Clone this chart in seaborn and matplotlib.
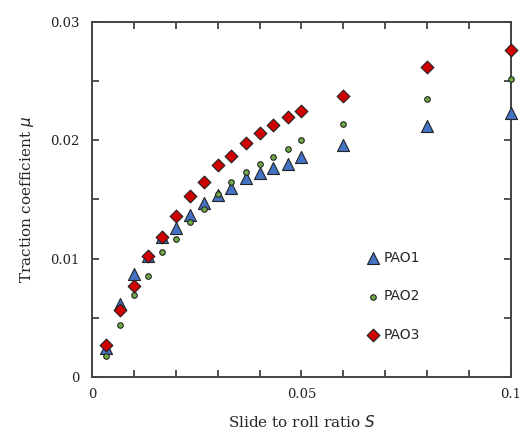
import numpy as np
import pandas as pd
import seaborn as sns
import matplotlib.pyplot as plt
from matplotlib.ticker import MultipleLocator, FixedFormatter, FixedLocator

# slide to roll ratio
S = [0.0033, 0.0067, 0.0100, 0.0133, 0.0167, 0.0200, 0.0233, 0.0267, 0.0300,
     0.0333, 0.0367, 0.0400, 0.0433, 0.0467, 0.0500, 0.060, 0.080, 0.100]

pao1 = [0.0025, 0.0062, 0.0087, 0.0102, 0.0118, 0.0126, 0.0137, 0.0147, 0.0154,
        0.0160, 0.0168, 0.0172, 0.0177, 0.0180, 0.0186, 0.0196, 0.0212, 0.0223]
pao2 = [0.0018, 0.0044, 0.0069, 0.0085, 0.0106, 0.0117, 0.0131, 0.0142, 0.0155,
        0.0165, 0.0173, 0.0180, 0.0186, 0.0193, 0.0200, 0.0214, 0.0235, 0.0252]
pao3 = [0.0027, 0.0057, 0.0077, 0.0102, 0.0118, 0.0136, 0.0153, 0.0165, 0.0179,
        0.0187, 0.0198, 0.0206, 0.0213, 0.0220, 0.0225, 0.0237, 0.0262, 0.0276]

names = ['PAO1', 'PAO2', 'PAO3']

df = pd.concat([
    pd.DataFrame({'S': S, 'mu': vals, 'fluid': n})
    for n, vals in zip(names, [pao1, pao2, pao3])
])

styles = {
    'PAO1': dict(marker='^', color='#4472C4', s=75),
    'PAO2': dict(marker='o', color='#70AD47', s=16),
    'PAO3': dict(marker='D', color='#D00000', s=42),
}

sns.set_style('ticks')
fig, ax = plt.subplots(figsize=(5.28, 4.37), dpi=100)
fig.subplots_adjust(left=0.174, right=0.968, top=0.95, bottom=0.137)

for n in names:
    st = styles[n]
    sns.scatterplot(data=df[df.fluid == n], x='S', y='mu', ax=ax,
                    marker=st['marker'], color=st['color'], s=st['s'],
                    edgecolor='#222222', linewidth=0.8, label=n, zorder=3,
                    clip_on=False)

ax.set_xlim(0, 0.1)
ax.set_ylim(0, 0.03)
ax.xaxis.set_major_locator(FixedLocator([0, 0.05, 0.1]))
ax.xaxis.set_major_formatter(FixedFormatter(['0', '0.05', '0.1']))
ax.xaxis.set_minor_locator(MultipleLocator(0.01))
ax.yaxis.set_major_locator(FixedLocator([0, 0.01, 0.02, 0.03]))
ax.yaxis.set_major_formatter(FixedFormatter(['0', '0.01', '0.02', '0.03']))
ax.yaxis.set_minor_locator(MultipleLocator(0.005))

for which in ['major', 'minor']:
    ax.tick_params(axis='both', which=which, direction='in', length=5, width=1.2,
                   color='#333333', top=True, right=True, labelsize=9.5,
                   labelcolor='#222222', pad=9)
ax.tick_params(axis='x', pad=8)
for lab in ax.get_xticklabels() + ax.get_yticklabels():
    lab.set_family('DejaVu Serif')

for sp in ax.spines.values():
    sp.set_linewidth(1.4)
    sp.set_color('#444444')

ax.set_xlabel(r'Slide to roll ratio $S$', family='DejaVu Serif', fontsize=11, labelpad=9)
ax.set_ylabel(r'Traction coefficient $\mu$', family='DejaVu Serif', fontsize=11, labelpad=10)

ax.legend(loc='upper left', bbox_to_anchor=(0.62, 0.39), frameon=False,
          labelspacing=1.75, handletextpad=0.2, handlelength=1.2, fontsize=10)

fig.savefig('out.png', dpi=100)
